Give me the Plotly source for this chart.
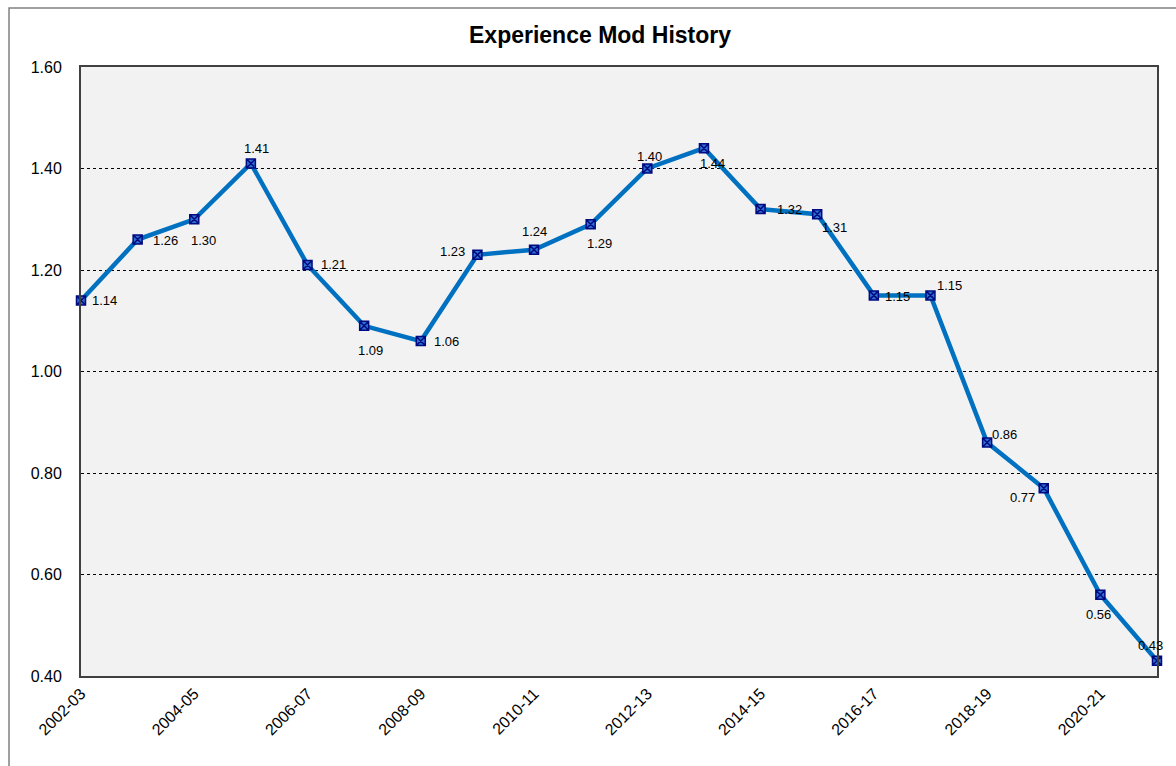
import plotly.graph_objects as go

# Policy years and experience modification factors
years = ["2002-03", "2003-04", "2004-05", "2005-06", "2006-07", "2007-08",
         "2008-09", "2009-10", "2010-11", "2011-12", "2012-13", "2013-14",
         "2014-15", "2015-16", "2016-17", "2017-18", "2018-19", "2019-20",
         "2020-21", "2021-22"]
mods = [1.14, 1.26, 1.30, 1.41, 1.21, 1.09, 1.06, 1.23, 1.24, 1.29,
        1.40, 1.44, 1.32, 1.31, 1.15, 1.15, 0.86, 0.77, 0.56, 0.43]
y_ticks = [0.40, 0.60, 0.80, 1.00, 1.20, 1.40, 1.60]

# Pixel offsets of each value label from its point
label_dx = [23, 28, 9, 6, 26, 6, 26, -25, 0, 9, 2, 9, 29, 17, 24, 19, 17, -21, -2, -7]
label_dy = [0, -1, -21, 15, 0, -25, 0, 3, 18, -19, 12, -15, 0, -13, -1, 10, 8, -9, -20, 15]

fig = go.Figure()
fig.add_trace(go.Scatter(
    x=years, y=mods, mode="lines+markers",
    line=dict(color="#0070C0", width=4.5),
    marker=dict(symbol="square-x", size=9, color="#2E6FD0",
                line=dict(color="#000A80", width=1.5)),
    cliponaxis=False, showlegend=False,
))

labels = [
    dict(x=yr, y=v, text=f"{v:.2f}", xref="x", yref="y", showarrow=False,
         xshift=dx, yshift=dy, xanchor="center", yanchor="middle",
         font=dict(family="Liberation Sans, Arial", size=13, color="#000000"))
    for yr, v, dx, dy in zip(years, mods, label_dx, label_dy)
]
labels.append(dict(
    text="<b>Experience Mod History</b>", xref="paper", yref="paper",
    x=0.482, y=1.052, xanchor="center", yanchor="middle", showarrow=False,
    font=dict(family="Liberation Sans, Arial", size=23, color="#000000")))

fig.update_layout(
    width=1176, height=766,
    margin=dict(l=81, r=19, t=67, b=90),
    paper_bgcolor="#FFFFFF", plot_bgcolor="#F2F2F2",
    font=dict(family="Liberation Sans, Arial", size=16, color="#000000"),
    annotations=labels,
    shapes=[dict(type="rect", xref="paper", yref="paper",
                 x0=-0.0669, y0=-0.5, x1=1.2, y1=1.0969,
                 line=dict(color="#808080", width=1.5), layer="below")],
)
fig.update_xaxes(
    type="category", range=[0, len(years) - 1],
    tickvals=years[::2], ticktext=years[::2], tickangle=-45,
    showgrid=False, showline=True, mirror=True,
    linecolor="#404040", linewidth=2, ticks="",
    tickfont=dict(size=16),
)
fig.update_yaxes(
    range=[0.4, 1.6], tickvals=y_ticks, tickformat=".2f",
    showgrid=True, gridcolor="#000000", griddash="dot", gridwidth=1,
    showline=True, mirror=True, linecolor="#404040", linewidth=2,
    ticks="", ticklabelstandoff=14, zeroline=False,
    tickfont=dict(size=16),
)

fig.write_html("out.html")
